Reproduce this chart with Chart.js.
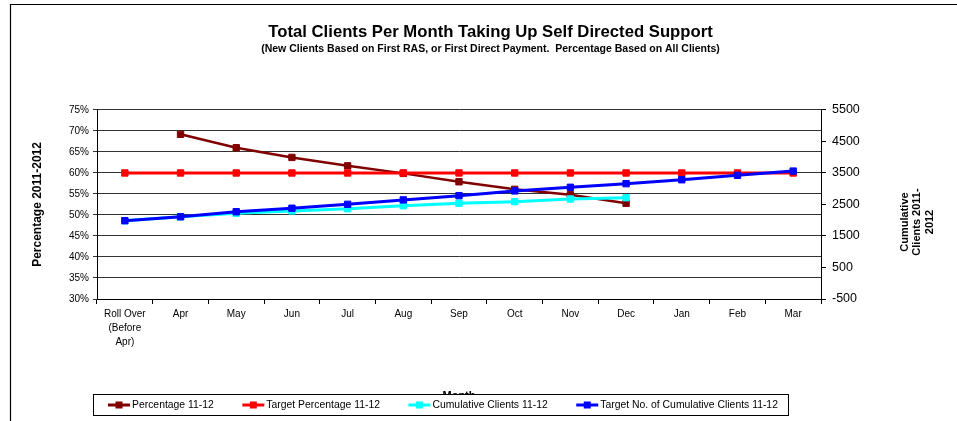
<!DOCTYPE html>
<html>
<head>
<meta charset="utf-8">
<title>Total Clients Per Month Taking Up Self Directed Support</title>
<script src="https://cdn.jsdelivr.net/npm/chart.js@4"></script>
<style>
  body { margin: 0; background: #fff; }
  #wrap { width: 957px; height: 421px; }
</style>
</head>
<body>
<div id="wrap"><canvas id="line-chart" width="957" height="421"></canvas></div>
<script>
// months along the bottom
const months = [['Roll Over', '(Before', 'Apr)'], 'Apr', 'May', 'Jun', 'Jul', 'Aug', 'Sep', 'Oct', 'Nov', 'Dec', 'Jan', 'Feb', 'Mar'];

// left axis (percent)
const percentage = [null, 69.2, 66.0, 63.7, 61.7, 59.9, 57.9, 56.1, 54.8, 52.8, null, null, null];
const targetPercentage = [60, 60, 60, 60, 60, 60, 60, 60, 60, 60, 60, 60, 60];

// right axis (clients)
const cumulativeClients = [1985, 2110, 2220, 2295, 2365, 2460, 2540, 2590, 2675, 2715, null, null, null];
const targetCumulative = [1985, 2110, 2270, 2380, 2505, 2645, 2780, 2930, 3045, 3160, 3285, 3425, 3560];

const rightTicks = [-500, 500, 1500, 2500, 3500, 4500, 5500];

const FONT = "'Liberation Sans', Arial, sans-serif";
Chart.defaults.font.family = FONT;
Chart.defaults.color = '#000';

// bits Excel draws that chart.js doesn't: frame, rotated right title, legend box
const extras = {
  id: 'extras',
  afterDraw(chart) {
    const ctx = chart.ctx;
    ctx.save();
    // outer frame (top + left only)
    ctx.strokeStyle = '#000';
    ctx.lineWidth = 1.2;
    ctx.beginPath();
    ctx.moveTo(10.5, 421);
    ctx.lineTo(10.5, 4.5);
    ctx.lineTo(957, 4.5);
    ctx.stroke();

    // right axis title, three lines reading upward
    ctx.save();
    ctx.translate(917, 222);
    ctx.rotate(-Math.PI / 2);
    ctx.font = 'bold 11px ' + FONT;
    ctx.fillStyle = '#000';
    ctx.textAlign = 'center';
    ctx.textBaseline = 'middle';
    ['Cumulative', 'Clients 2011-', '2012'].forEach((t, i) => ctx.fillText(t, 0, (i - 1) * 12.5));
    ctx.restore();

    // x axis title, half hidden by the legend
    ctx.font = 'bold 11px ' + FONT;
    ctx.textAlign = 'center';
    ctx.textBaseline = 'alphabetic';
    ctx.fillStyle = '#000';
    ctx.fillText('Month', (chart.chartArea.left + chart.chartArea.right) / 2, 399);

    // legend
    ctx.fillStyle = '#fff';
    ctx.fillRect(93.5, 394.5, 695, 21);
    ctx.strokeStyle = '#000';
    ctx.lineWidth = 1;
    ctx.strokeRect(93.5, 394.5, 695, 21);
    ctx.font = '10.4px ' + FONT;
    ctx.textAlign = 'left';
    ctx.textBaseline = 'middle';
    let x = 108;
    const y = 405;
    chart.data.datasets.forEach(ds => {
      ctx.strokeStyle = ds.borderColor;
      ctx.lineWidth = 3;
      ctx.beginPath();
      ctx.moveTo(x, y);
      ctx.lineTo(x + 22, y);
      ctx.stroke();
      ctx.fillStyle = ds.borderColor;
      ctx.fillRect(x + 7.5, y - 3.5, 7, 7);
      ctx.fillStyle = '#000';
      ctx.fillText(ds.label, x + 24, y);
      x += 24 + ctx.measureText(ds.label).width + 28.5;
    });
    ctx.restore();
  }
};

function series(label, data, color, axis, width, order) {
  return {
    label: label,
    data: data,
    yAxisID: axis,
    borderColor: color,
    backgroundColor: color,
    borderWidth: width,
    pointStyle: 'rect',
    pointRadius: 4.5,
    pointBorderWidth: 1,
    pointHoverRadius: 4.5,
    tension: 0,
    spanGaps: false,
    order: order
  };
}

new Chart(document.getElementById('line-chart'), {
  type: 'line',
  data: {
    labels: months,
    datasets: [
      series('Percentage 11-12', percentage, '#800000', 'y', 2.5, 4),
      series('Target Percentage 11-12', targetPercentage, '#ff0000', 'y', 3, 3),
      series('Cumulative Clients 11-12', cumulativeClients, '#00ffff', 'y1', 3, 2),
      series('Target No. of Cumulative Clients 11-12', targetCumulative, '#0000ff', 'y1', 3, 1)
    ]
  },
  options: {
    responsive: false,
    animation: false,
    layout: { padding: { left: 24, right: 0, top: 0, bottom: 0 } },
    plugins: {
      legend: { display: false },
      tooltip: { enabled: false },
      title: {
        display: true,
        text: 'Total Clients Per Month Taking Up Self Directed Support',
        font: { size: 16.7, weight: 'bold' },
        color: '#000',
        padding: { top: 22, bottom: 1 }
      },
      subtitle: {
        display: true,
        text: '(New Clients Based on First RAS, or First Direct Payment.  Percentage Based on All Clients)',
        font: { size: 10.5, weight: 'bold' },
        color: '#000',
        padding: { top: 0, bottom: 54.3 }
      }
    },
    scales: {
      x: {
        offset: true,
        afterFit: s => { s.height = 122; },
        grid: { offset: true, drawOnChartArea: false, color: '#000', tickLength: 5 },
        border: { color: '#000', width: 1 },
        ticks: { autoSkip: false, maxRotation: 0, padding: 3, font: { size: 10, lineHeight: 1.4 } }
      },
      y: {
        position: 'left',
        min: 30,
        max: 75,
        afterFit: s => { s.width = 73; },
        grid: { color: '#333', tickLength: 4 },
        border: { color: '#000', width: 1 },
        ticks: { stepSize: 5, padding: 4, font: { size: 10 }, callback: v => v + '%' },
        title: {
          display: true,
          text: 'Percentage 2011-2012',
          font: { size: 12, weight: 'bold' },
          padding: { top: 6 }
        }
      },
      y1: {
        position: 'right',
        min: -500,
        max: 5500,
        afterFit: s => { s.width = 136; },
        afterBuildTicks: s => { s.ticks = rightTicks.map(v => ({ value: v })); },
        grid: { drawOnChartArea: false, color: '#000', tickLength: 5 },
        border: { color: '#000', width: 1 },
        ticks: { padding: 6, font: { size: 12.5 }, callback: v => String(v) }
      }
    }
  },
  plugins: [extras]
});
</script>
</body>
</html>
